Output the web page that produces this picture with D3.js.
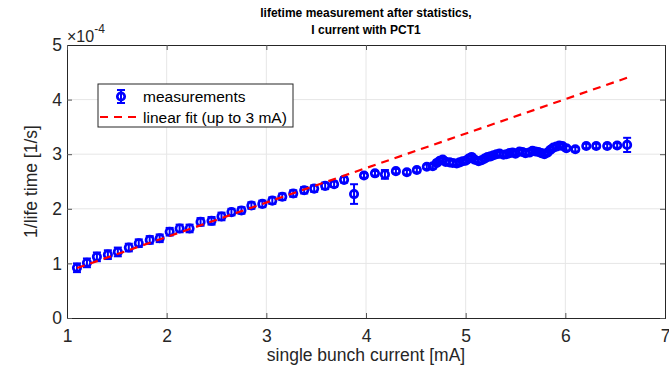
<!DOCTYPE html>
<html>
<head>
<meta charset="utf-8">
<script src="https://cdn.jsdelivr.net/npm/d3@7"></script>
<style>
  body { margin: 0; background: #fff; }
  svg { display: block; font-family: "Liberation Sans", Arial, sans-serif; }
</style>
</head>
<body>
<div id="chart"></div>
<script>
// measured single bunch current [mA]
const current = [
  1.10, 1.20, 1.30, 1.41, 1.51, 1.62, 1.72, 1.83, 1.93, 2.03,
  2.13, 2.23, 2.34, 2.45, 2.55, 2.65, 2.75, 2.85, 2.96, 3.06,
  3.16, 3.27, 3.38, 3.48, 3.59, 3.68, 3.78, 3.88, 3.98, 4.09,
  4.19, 4.30, 4.41, 4.51, 4.61, 4.67, 4.71, 4.74, 4.77, 4.80,
  4.84, 4.87, 4.91, 4.94, 4.97, 5.00, 5.03, 5.06, 5.09, 5.13,
  5.16, 5.19, 5.22, 5.25, 5.28, 5.31, 5.34, 5.38, 5.41, 5.44,
  5.47, 5.50, 5.54, 5.57, 5.60, 5.64, 5.67, 5.70, 5.73, 5.76,
  5.79, 5.82, 5.85, 5.88, 5.91, 5.94, 5.97, 6.01, 6.10, 6.21,
  6.31, 6.42, 6.52, 6.62
];
// 1/lifetime in units of 1e-4 1/s
const invLifetime = [
  0.92, 1.01, 1.12, 1.16, 1.21, 1.29, 1.37, 1.43, 1.46, 1.58,
  1.64, 1.64, 1.76, 1.78, 1.86, 1.94, 1.97, 2.06, 2.09, 2.15,
  2.22, 2.28, 2.34, 2.37, 2.42, 2.45, 2.53, 2.27, 2.61, 2.65,
  2.63, 2.69, 2.67, 2.71, 2.77, 2.78, 2.84, 2.88, 2.90, 2.86,
  2.85, 2.84, 2.83, 2.85, 2.87, 2.88, 2.92, 2.95, 2.90, 2.87,
  2.89, 2.92, 2.95, 2.96, 2.98, 3.00, 3.01, 2.99, 3.00, 3.02,
  3.03, 3.01, 3.05, 3.04, 3.02, 3.03, 3.06, 3.05, 3.04, 3.02,
  3.00, 3.03, 3.08, 3.12, 3.14, 3.16, 3.15, 3.11, 3.09, 3.15,
  3.15, 3.15, 3.16, 3.17
];
const invLifetimeErr = [
  0.08, 0.08, 0.08, 0.08, 0.08, 0.07, 0.07, 0.07, 0.07, 0.07,
  0.07, 0.07, 0.07, 0.07, 0.07, 0.06, 0.06, 0.06, 0.06, 0.06,
  0.06, 0.06, 0.06, 0.06, 0.06, 0.05, 0.05, 0.18, 0.04, 0.04,
  0.08, 0.04, 0.04, 0.04, 0.04, 0.04, 0.04, 0.04, 0.04, 0.04,
  0.04, 0.04, 0.04, 0.04, 0.04, 0.04, 0.04, 0.04, 0.04, 0.04,
  0.04, 0.04, 0.04, 0.04, 0.04, 0.04, 0.04, 0.04, 0.04, 0.04,
  0.04, 0.04, 0.04, 0.04, 0.04, 0.04, 0.04, 0.04, 0.04, 0.04,
  0.04, 0.04, 0.04, 0.04, 0.04, 0.04, 0.04, 0.04, 0.04, 0.04,
  0.04, 0.04, 0.04, 0.13
];
// linear fit (up to 3 mA), drawn over the full current range
const fitCurrent = [1.10, 6.62];
const fitInvLifetime = [0.915, 4.40];

const xTicks = [1, 2, 3, 4, 5, 6, 7];
const yTicks = [0, 1, 2, 3, 4, 5];

const W = 669, H = 371;
const margin = { top: 45, right: 4, bottom: 53, left: 67 };
const blue = '#0000ff', red = '#ff0000', axisColor = '#262626';
const labelSize = '17.5px';

const svg = d3.select('#chart').append('svg').attr('width', W).attr('height', H);

const x = d3.scaleLinear().domain([1, 7]).range([margin.left, W - margin.right]);
const y = d3.scaleLinear().domain([0, 5]).range([H - margin.bottom, margin.top]);
const [x0, x1] = x.range();
const [y0, y1] = y.range();

// grid
const grid = svg.append('g').attr('stroke', '#e6e6e6').attr('stroke-width', 1);
grid.selectAll('.gx').data(xTicks.slice(1, -1)).enter().append('line')
  .attr('x1', d => x(d)).attr('x2', d => x(d)).attr('y1', y0).attr('y2', y1);
grid.selectAll('.gy').data(yTicks.slice(1, -1)).enter().append('line')
  .attr('y1', d => y(d)).attr('y2', d => y(d)).attr('x1', x0).attr('x2', x1);

// axes (MATLAB-style: ticks inside, box on)
const xAxis = svg.append('g').attr('transform', `translate(0,${y0})`)
  .call(d3.axisBottom(x).tickValues(xTicks).tickSize(-5).tickPadding(12).tickFormat(d3.format('d')));
const yAxis = svg.append('g').attr('transform', `translate(${x0},0)`)
  .call(d3.axisLeft(y).tickValues(yTicks).tickSize(-5).tickPadding(5).tickFormat(d3.format('d')));
const xTop = svg.append('g').attr('transform', `translate(0,${y1})`)
  .call(d3.axisTop(x).tickValues(xTicks).tickSize(-5).tickFormat(''));
const yRight = svg.append('g').attr('transform', `translate(${x1},0)`)
  .call(d3.axisRight(y).tickValues(yTicks).tickSize(-5).tickFormat(''));
[xAxis, yAxis, xTop, yRight].forEach(g => {
  g.selectAll('path,line').attr('stroke', axisColor);
  g.selectAll('text').attr('fill', axisColor).style('font-size', labelSize);
  g.selectAll('.tick line').attr('stroke', '#555');
});

// measurements with error bars
const pts = current.map((c, i) => ({ c, v: invLifetime[i], e: invLifetimeErr[i] }));
const meas = svg.append('g').attr('stroke', blue).attr('fill', 'none').attr('stroke-width', 2);
const bar = meas.selectAll('g.pt').data(pts).enter().append('g');
bar.append('line')
  .attr('x1', d => x(d.c)).attr('x2', d => x(d.c))
  .attr('y1', d => y(d.v - d.e)).attr('y2', d => y(d.v + d.e));
bar.append('line')
  .attr('x1', d => x(d.c) - 4).attr('x2', d => x(d.c) + 4)
  .attr('y1', d => y(d.v - d.e)).attr('y2', d => y(d.v - d.e));
bar.append('line')
  .attr('x1', d => x(d.c) - 4).attr('x2', d => x(d.c) + 4)
  .attr('y1', d => y(d.v + d.e)).attr('y2', d => y(d.v + d.e));
bar.append('circle')
  .attr('cx', d => x(d.c)).attr('cy', d => y(d.v)).attr('r', 3.7)
  .attr('stroke-width', 2.7);

// linear fit
const line = d3.line().x(d => x(d[0])).y(d => y(d[1]));
svg.append('path')
  .datum(fitCurrent.map((c, i) => [c, fitInvLifetime[i]]))
  .attr('d', line)
  .attr('fill', 'none').attr('stroke', red).attr('stroke-width', 2.2)
  .attr('stroke-dasharray', '8,6');

// exponent label
const expo = svg.append('text').attr('x', x0).attr('y', 42)
  .attr('fill', axisColor).style('font-size', '16px');
expo.append('tspan').text('\u00d710');
expo.append('tspan').attr('dy', -9).style('font-size', '12px').text('-4');

// title
const title = svg.append('text').attr('text-anchor', 'middle')
  .attr('fill', '#000').style('font-size', '12px').style('font-weight', 'bold');
title.append('tspan').attr('x', (x0 + x1) / 2).attr('y', 17).text('lifetime measurement after statistics,');
title.append('tspan').attr('x', (x0 + x1) / 2).attr('y', 34).text('I current with PCT1');

// axis labels
svg.append('text').attr('x', (x0 + x1) / 2).attr('y', 361).attr('text-anchor', 'middle')
  .attr('fill', axisColor).style('font-size', labelSize).text('single bunch current [mA]');
svg.append('text').attr('transform', `translate(37,${(y0 + y1) / 2}) rotate(-90)`)
  .attr('text-anchor', 'middle').attr('fill', axisColor).style('font-size', labelSize)
  .text('1/life time [1/s]');

// legend
const lg = svg.append('g').attr('transform', 'translate(98,84)');
lg.append('rect').attr('width', 195).attr('height', 43)
  .attr('fill', '#fff').attr('stroke', axisColor).attr('stroke-width', 1);
const sym = lg.append('g').attr('stroke', blue).attr('stroke-width', 2).attr('fill', 'none');
sym.append('line').attr('x1', 23).attr('x2', 23).attr('y1', 6).attr('y2', 19);
sym.append('line').attr('x1', 19).attr('x2', 27).attr('y1', 6).attr('y2', 6);
sym.append('line').attr('x1', 19).attr('x2', 27).attr('y1', 19).attr('y2', 19);
sym.append('circle').attr('cx', 23).attr('cy', 12.5).attr('r', 3.7).attr('stroke-width', 2.7);
lg.append('line').attr('x1', 2).attr('x2', 42).attr('y1', 33).attr('y2', 33)
  .attr('stroke', red).attr('stroke-width', 2.2).attr('stroke-dasharray', '8,6');
lg.append('text').attr('x', 45).attr('y', 18).attr('fill', '#000').style('font-size', '15.5px').text('measurements');
lg.append('text').attr('x', 45).attr('y', 38.5).attr('fill', '#000').style('font-size', '15.5px').text('linear fit (up to 3 mA)');
</script>
</body>
</html>
